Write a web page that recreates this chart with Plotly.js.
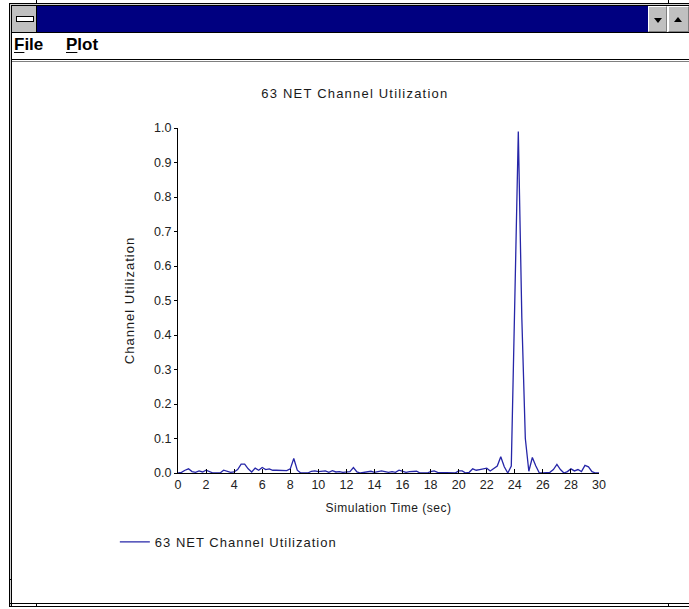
<!DOCTYPE html>
<html>
<head>
<meta charset="utf-8">
<script src="https://cdn.plot.ly/plotly-3.0.1.min.js"></script>
<style>
  html, body { margin: 0; padding: 0; background: #ffffff; }
  #win { position: relative; width: 689px; height: 609px; overflow: hidden; background: #ffffff; font-family: "Liberation Sans", Arial, sans-serif; }
  .abs { position: absolute; }
  #chart { position: absolute; left: 0; top: 0; width: 689px; height: 609px; }
  .menu { position: absolute; top: 35px; font-weight: bold; font-size: 17px; color: #000; font-family: "Liberation Sans", Arial, sans-serif; }
  .menu u { text-decoration: underline; text-underline-offset: 2px; }
  .btn { position: absolute; top: 6px; width: 19px; height: 26px; background: #c0c0c0; border-left: 1px solid #fff; border-top: 1px solid #fff; border-right: 1px solid #808080; border-bottom: 1px solid #808080; box-sizing: border-box; }
  .tri-d { position: absolute; left: 5px; top: 11px; width: 0; height: 0; border-left: 4px solid transparent; border-right: 4px solid transparent; border-top: 5px solid #000; }
  .tri-u { position: absolute; left: 5px; top: 10px; width: 0; height: 0; border-left: 4px solid transparent; border-right: 4px solid transparent; border-bottom: 5px solid #000; }
  .gtitle { letter-spacing: 1.2px; }
  .ytitle, .legendtext { letter-spacing: 1px; }
  .xtitle { letter-spacing: 0.5px; }
</style>
</head>
<body>
<div id="win">
  <div id="chart"></div>
  <!-- window chrome -->
  <div class="abs" style="left:9px;top:3px;width:680px;height:1px;background:#000"></div>
  <div class="abs" style="left:9px;top:3px;width:1px;height:604px;background:#000"></div>
  <div class="abs" style="left:10px;top:4px;width:1px;height:602px;background:#d0d0d0"></div>
  <div class="abs" style="left:11px;top:5px;width:1px;height:601px;background:#000"></div>
  <div class="abs" style="left:36px;top:0px;width:1px;height:3px;background:#000"></div>
  <div class="abs" style="left:668px;top:0px;width:1px;height:3px;background:#000"></div>
  <div class="abs" style="left:10px;top:4px;width:679px;height:1px;background:#d0d0d0"></div>
  <div class="abs" style="left:11px;top:5px;width:678px;height:1px;background:#000"></div>
  <!-- title bar -->
  <div class="abs" style="left:37px;top:6px;width:611px;height:26px;background:#000080"></div>
  <div class="abs" style="left:12px;top:6px;width:24px;height:26px;background:#c0c0c0"></div>
  <div class="abs" style="left:36px;top:6px;width:1px;height:26px;background:#000"></div>
  <div class="abs" style="left:16px;top:16px;width:16px;height:4px;background:#fff;border:1px solid #000"></div>
  <div class="btn" style="left:648px;"><div class="tri-d"></div></div>
  <div class="btn" style="left:668px;width:21px;"><div class="tri-u"></div></div>
  <div class="abs" style="left:12px;top:32px;width:677px;height:1px;background:#000"></div>
  <!-- menu bar -->
  <div class="menu" style="left:14px;"><u>F</u>ile</div>
  <div class="menu" style="left:66px;"><u>P</u>lot</div>
  <div class="abs" style="left:12px;top:59px;width:677px;height:1px;background:#000"></div>
  <div class="abs" style="left:12px;top:61px;width:677px;height:1px;background:#808080"></div>
  <!-- bottom frame -->
  <div class="abs" style="left:9px;top:603px;width:680px;height:1px;background:#000"></div>
  <div class="abs" style="left:9px;top:606px;width:680px;height:1px;background:#000"></div>
  <div class="abs" style="left:9px;top:579px;width:3px;height:1px;background:#000"></div>
  <div class="abs" style="left:36px;top:603px;width:1px;height:4px;background:#000"></div>
  <div class="abs" style="left:668px;top:603px;width:1px;height:4px;background:#000"></div>
</div>
<script>
// Simulation time (sec), sampled every 0.25 s
var timeSec = [
  0.00, 0.25, 0.50, 0.75, 1.00, 1.25, 1.50, 1.75, 2.00, 2.25,
  2.50, 2.75, 3.00, 3.25, 3.50, 3.75, 4.00, 4.25, 4.50, 4.75,
  5.00, 5.25, 5.50, 5.75, 6.00, 6.25, 6.50, 6.75, 7.00, 7.25,
  7.50, 7.75, 8.00, 8.25, 8.50, 8.75, 9.00, 9.25, 9.50, 9.75,
  10.00, 10.25, 10.50, 10.75, 11.00, 11.25, 11.50, 11.75, 12.00, 12.25,
  12.50, 12.75, 13.00, 13.25, 13.50, 13.75, 14.00, 14.25, 14.50, 14.75,
  15.00, 15.25, 15.50, 15.75, 16.00, 16.25, 16.50, 16.75, 17.00, 17.25,
  17.50, 17.75, 18.00, 18.25, 18.50, 18.75, 19.00, 19.25, 19.50, 19.75,
  20.00, 20.25, 20.50, 20.75, 21.00, 21.25, 21.50, 21.75, 22.00, 22.25,
  22.50, 22.75, 23.00, 23.25, 23.50, 23.75, 24.00, 24.25, 24.50, 24.75,
  25.00, 25.25, 25.50, 25.75, 26.00, 26.25, 26.50, 26.75, 27.00, 27.25,
  27.50, 27.75, 28.00, 28.25, 28.50, 28.75, 29.00, 29.25, 29.50, 29.75,
  30.00
];
// Channel utilization (fraction)
var utilization = [
  0.000, 0.002, 0.008, 0.012, 0.004, 0.002, 0.006, 0.003, 0.008, 0.004,
  0.000, 0.000, 0.000, 0.008, 0.004, 0.002, 0.003, 0.010, 0.026, 0.026,
  0.012, 0.003, 0.014, 0.008, 0.016, 0.010, 0.012, 0.008, 0.008, 0.007,
  0.007, 0.007, 0.012, 0.042, 0.008, 0.000, 0.000, 0.000, 0.005, 0.006,
  0.004, 0.004, 0.006, 0.002, 0.007, 0.003, 0.004, 0.002, 0.004, 0.004,
  0.016, 0.003, 0.000, 0.002, 0.004, 0.005, 0.002, 0.004, 0.006, 0.004,
  0.002, 0.004, 0.002, 0.008, 0.006, 0.002, 0.004, 0.005, 0.005, 0.000,
  0.000, 0.000, 0.004, 0.006, 0.002, 0.002, 0.002, 0.000, 0.000, 0.000,
  0.006, 0.006, 0.000, 0.002, 0.012, 0.008, 0.010, 0.012, 0.014, 0.006,
  0.012, 0.020, 0.047, 0.018, 0.000, 0.020, 0.500, 0.990, 0.450, 0.100,
  0.005, 0.045, 0.020, 0.000, 0.000, 0.000, 0.002, 0.010, 0.025, 0.010,
  0.000, 0.004, 0.012, 0.006, 0.010, 0.004, 0.022, 0.018, 0.004, 0.000,
  0.000
];
var chartTitle = "63 NET Channel Utilization";
var seriesName = "63 NET Channel Utilization";
var xTitle = "Simulation Time (sec)";
var yTitle = "Channel Utilization";

var fontFam = "Liberation Sans, Arial, sans-serif";
var textCol = "#1a1a1a";
var trace = {
  x: timeSec, y: utilization, type: "scatter", mode: "lines",
  name: seriesName, line: { color: "#2626a8", width: 1.3 }, cliponaxis: false
};
var layout = {
  width: 689, height: 609, autosize: false,
  margin: { l: 178, r: 90, t: 128, b: 136, pad: 0 },
  paper_bgcolor: "rgba(0,0,0,0)", plot_bgcolor: "rgba(0,0,0,0)",
  font: { family: fontFam, size: 12, color: textCol },
  title: { text: chartTitle, x: 0.515, xref: "container", xanchor: "center", y: 1 - 93/609, yref: "container", yanchor: "middle", font: { family: fontFam, size: 13, color: textCol } },
  xaxis: {
    range: [0, 30], dtick: 2, tick0: 0, showgrid: false, zeroline: false,
    showline: true, linecolor: "#000", linewidth: 1,
    ticks: "inside", ticklen: 4, tickcolor: "#000",
    tickfont: { family: fontFam, size: 12.5, color: "#222" },
    title: { text: xTitle, standoff: 12, font: { family: fontFam, size: 12, color: textCol } }
  },
  yaxis: {
    range: [0, 1], dtick: 0.1, tick0: 0, tickformat: ".1f", showgrid: false, zeroline: false,
    showline: true, linecolor: "#000", linewidth: 1,
    ticks: "outside", ticklen: 3, tickcolor: "#000",
    tickfont: { family: fontFam, size: 12.5, color: "#222" },
    title: { text: yTitle, standoff: 16, font: { family: fontFam, size: 13, color: textCol } }
  },
  showlegend: true,
  legend: { orientation: "h", x: -0.15, xanchor: "left", y: -0.2, yanchor: "middle", bgcolor: "rgba(0,0,0,0)", font: { family: fontFam, size: 13, color: textCol } }
};
Plotly.newPlot("chart", [trace], layout, { displayModeBar: false, staticPlot: true });
</script>
</body>
</html>
